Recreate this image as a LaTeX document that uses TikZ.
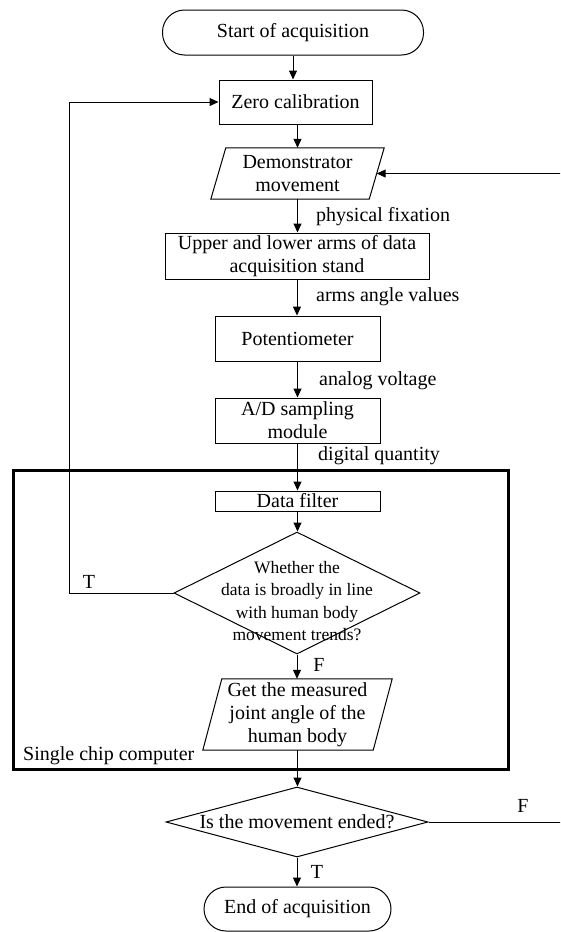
\documentclass[tikz,border=0pt]{standalone}
\usepackage{fontspec}
\setmainfont{Liberation Serif}
\usetikzlibrary{arrows.meta,shapes.geometric}

\begin{document}
\begin{tikzpicture}[x=1pt,y=-1pt,
  every node/.style={font=\fontsize{20}{23}\selectfont},
  line/.style={line width=1pt},
  arr/.style={line width=1pt, -{Triangle[length=9pt,width=8pt]}},
  procbox/.style={draw, line width=1pt, rectangle, inner sep=0pt, align=center},
  term/.style={procbox, rounded corners=22pt},
  ghost/.style={rectangle, inner sep=0pt, align=center},
  decision/.style={draw, line width=1pt, diamond, inner sep=0pt},
  lbl/.style={inner sep=0pt, anchor=west},
  tag/.style={inner sep=0pt},
]
\useasboundingbox (0,0) rectangle (560,932);

% main chain of steps
\node[term, minimum width=261, minimum height=45] (start) at (293,32.5) {Start of acquisition};
\node[procbox, minimum width=153, minimum height=44] (zero) at (295.5,102) {Zero calibration};

\node[ghost, minimum width=158, minimum height=51] (demo) at (297.5,173.5) {Demonstrator\\movement};
\draw[line] ([xshift=7.5pt]demo.north west) -- ([xshift=7.5pt]demo.north east)
  -- ([xshift=-7.5pt]demo.south east) -- ([xshift=-7.5pt]demo.south west) -- cycle;

\node[procbox, minimum width=264, minimum height=46] (arms) at (297,256) {Upper and lower arms of data\\acquisition stand};
\node[procbox, minimum width=165, minimum height=45] (pot) at (297.5,338.5) {Potentiometer};
\node[procbox, minimum width=165, minimum height=45] (ad) at (297.5,420.5) {A/D sampling\\module};

% single chip computer frame
\node[draw, line width=3pt, rectangle, inner sep=0pt, minimum width=495, minimum height=299] (mcu) at (260.5,619.5) {};
\node[lbl] (mcul) at (23,756) {Single chip computer};

\node[procbox, minimum width=165, minimum height=20] (filt) at (297.5,501) {Data filter};

\node[decision, minimum width=246, minimum height=122] (chk) at (297,593) {};
\node[ghost, font=\fontsize{17.5}{22.3}\selectfont] (chkt) at (297,601) {Whether the\\data is broadly in line\\with human body\\movement trends?};

\node[ghost, minimum width=170, minimum height=71] (meas) at (297.5,714.5) {Get the measured\\joint angle of the\\human body};
\draw[line] ([xshift=9.5pt]meas.north west) -- ([xshift=9.5pt]meas.north east)
  -- ([xshift=-9.5pt]meas.south east) -- ([xshift=-9.5pt]meas.south west) -- cycle;

\node[decision, minimum width=262, minimum height=70] (done) at (297,822) {};
\node[ghost] (donet) at (297,822) {Is the movement ended?};

\node[term, minimum width=187, minimum height=44] (end) at (297.5,909) {End of acquisition};

% signal labels
\node[lbl] (l1) at (316,217) {physical fixation};
\node[lbl] (l2) at (316,297) {arms angle values};
\node[lbl] (l3) at (319,381) {analog voltage};
\node[lbl] (l4) at (318,456) {digital quantity};
\node[tag] (t1) at (89,582) {T};
\node[tag] (f1) at (319,665) {F};
\node[tag] (f2) at (523,806) {F};
\node[tag] (t2) at (317,872) {T};

% connectors
\draw[arr] (start.south) -- (start.south |- zero.north);
\draw[arr] (demo.north |- zero.south) -- (demo.north);
\draw[arr] (demo.south) -- (demo.south |- arms.north);
\draw[arr] (arms.south) -- (arms.south |- pot.north);
\draw[arr] (pot.south) -- (ad.north);
\draw[arr] (ad.south) -- (filt.north);
\draw[arr] (filt.south) -- (filt.south |- chk.north);
\draw[arr] (chk.south) -- (chk.south |- meas.north);
\draw[arr] (meas.south) -- (meas.south |- done.north);
\draw[arr] (done.south) -- (done.south |- end.north);

% loop back to zero calibration
\coordinate (loopx) at (69,0);
\draw[arr] (chk.west) -- (loopx |- chk.west) -- (loopx |- zero.west) -- (zero.west);

% loop back to demonstrator movement; its return rail runs past the right edge
\coordinate (rail) at (566,0);
\begin{scope}
  \clip (0,0) rectangle (560,932);
  \draw[arr] (done.east) -- (rail |- done.east) -- (rail |- demo.east) -- (demo.east);
\end{scope}
\end{tikzpicture}
\end{document}
